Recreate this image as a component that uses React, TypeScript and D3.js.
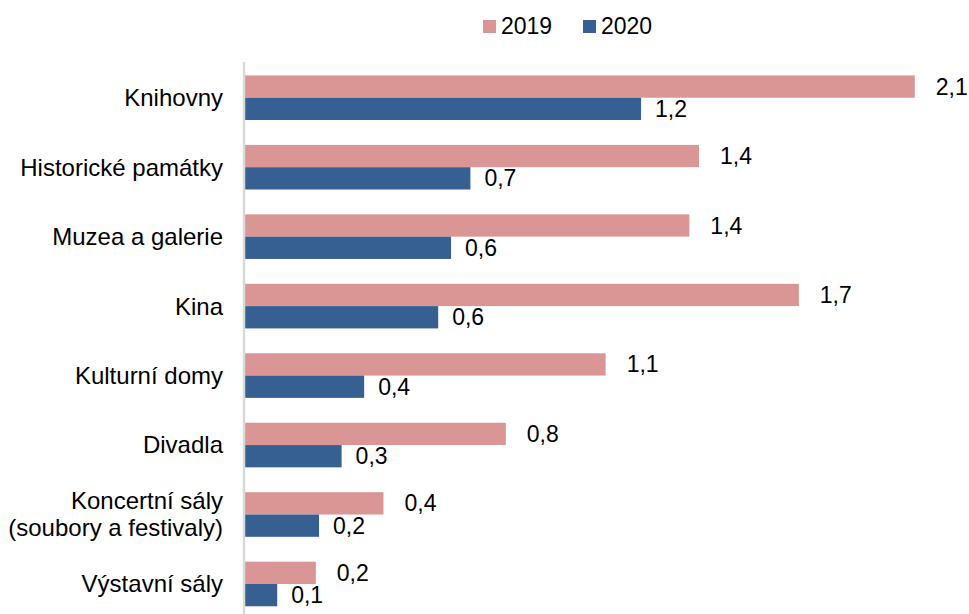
import React, { useEffect, useRef } from 'react';
import * as d3 from 'd3';

const categories = [
  'Knihovny',
  'Historické památky',
  'Muzea a galerie',
  'Kina',
  'Kulturní domy',
  'Divadla',
  'Koncertní sály\n(soubory a festivaly)',
  'Výstavní sály',
];
const values2019 = [2.08, 1.41, 1.38, 1.72, 1.12, 0.81, 0.43, 0.22];
const values2020 = [1.23, 0.7, 0.64, 0.6, 0.37, 0.3, 0.23, 0.1];
const seriesNames = ['2019', '2020'];
const seriesColors = ['#d99694', '#376092'];

const App: React.FC = () => {
  const svgRef = useRef<SVGSVGElement>(null);

  useEffect(() => {
    if (!svgRef.current) return;
    const width = 969;
    const height = 614;
    const font = '"Liberation Sans", Arial, sans-serif';
    const fontSize = 23;

    const svg = d3.select(svgRef.current);
    svg.selectAll('*').remove();
    svg.append('rect').attr('width', width).attr('height', height).attr('fill', '#ffffff');

    const x = d3.scaleLinear().domain([0, 2.2]).range([245, 245 + 2.2 * 322]);
    const y = d3.scaleBand<string>().domain(categories).range([63, 618.7]).padding(0);
    const step = y.step();
    const barH = step * 0.321;
    const fmt = (v: number) => d3.format('.1f')(v).replace('.', ',');

    // bars
    const series = [values2019, values2020];
    series.forEach((vals, si) => {
      const g = svg.append('g');
      g.selectAll('rect')
        .data(vals)
        .join('rect')
        .attr('x', x(0))
        .attr('y', (_, i) => (y(categories[i]) as number) + step / 2 - barH + si * barH)
        .attr('width', (d) => x(d) - x(0))
        .attr('height', barH)
        .attr('fill', seriesColors[si]);

      g.selectAll('text')
        .data(vals)
        .join('text')
        .attr('x', (d) => x(d) + (si === 0 ? 21 : 14))
        .attr('y', (_, i) => (y(categories[i]) as number) + step / 2 - barH / 2 + si * barH)
        .attr('dy', '0.35em')
        .attr('font-family', font)
        .attr('font-size', fontSize)
        .attr('fill', '#000')
        .text((d) => fmt(d));
    });

    // axis line
    svg.append('line')
      .attr('x1', 244).attr('x2', 244)
      .attr('y1', 62).attr('y2', height)
      .attr('stroke', '#d9d9d9')
      .attr('stroke-width', 2.5);

    // category labels
    categories.forEach((c) => {
      const lines = c.split('\n');
      const cy = (y(c) as number) + step / 2;
      const lh = 27;
      const t = svg.append('text')
        .attr('text-anchor', 'end')
        .attr('font-family', font)
        .attr('font-size', 24)
        .attr('fill', '#000');
      lines.forEach((ln, li) => {
        t.append('tspan')
          .attr('x', 223)
          .attr('y', cy + (li - (lines.length - 1) / 2) * lh)
          .attr('dy', '0.35em')
          .text(ln);
      });
    });

    // legend
    const legendX = [483, 583];
    seriesNames.forEach((name, i) => {
      svg.append('rect')
        .attr('x', legendX[i]).attr('y', 20)
        .attr('width', 13).attr('height', 13)
        .attr('fill', seriesColors[i]);
      svg.append('text')
        .attr('x', legendX[i] + 18).attr('y', 34)
        .attr('font-family', font)
        .attr('font-size', fontSize)
        .attr('fill', '#000')
        .text(name);
    });
  }, []);

  return (
    <div style={{ position: 'absolute', left: 0, top: 0 }}>
      <svg ref={svgRef} width="969" height="614" style={{ display: 'block' }}></svg>
    </div>
  );
};

export default App;
